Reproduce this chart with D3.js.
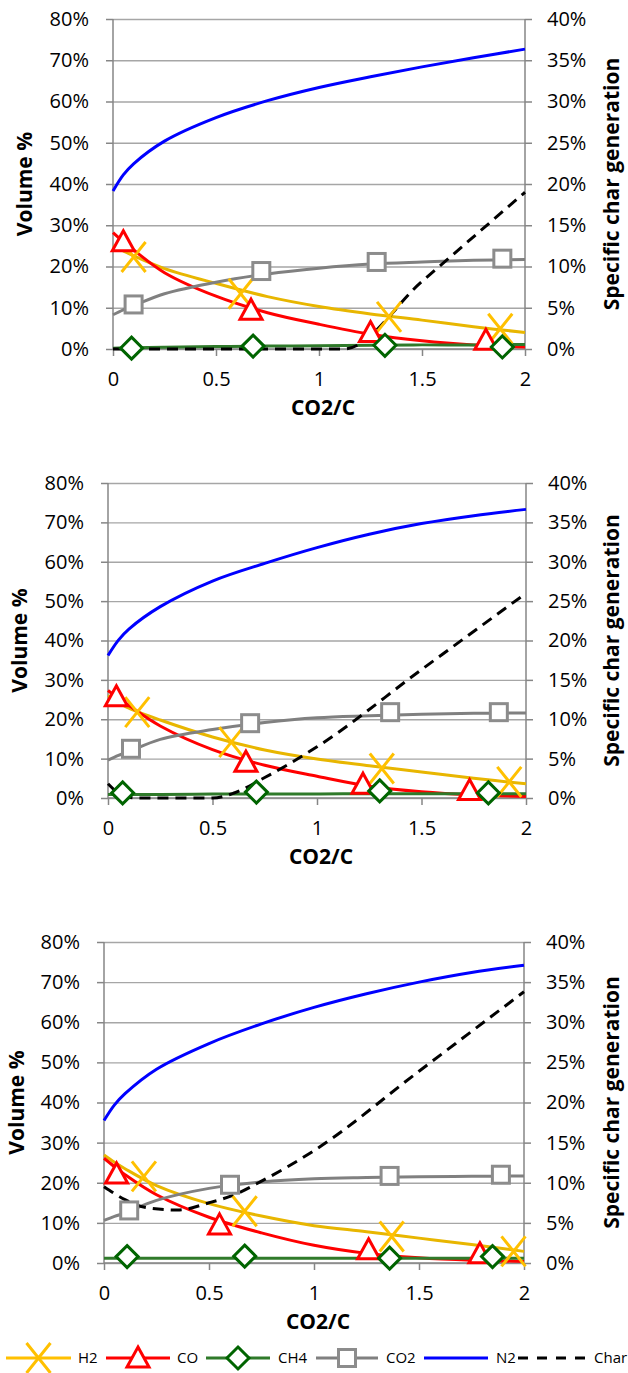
<!DOCTYPE html>
<html>
<head>
<meta charset="utf-8">
<script src="https://cdn.jsdelivr.net/npm/d3@7/dist/d3.min.js"></script>
<style>
  body { margin: 0; background: #fff; }
  svg { display: block; font-family: "Open Sans", sans-serif; }
</style>
</head>
<body>
<script>
var curveX = [0, 0.05, 0.1, 0.25, 0.5, 0.75, 1, 1.25, 1.5, 1.75, 2];

var leftTicks = [0, 10, 20, 30, 40, 50, 60, 70, 80];
var rightTicks = [0, 5, 10, 15, 20, 25, 30, 35, 40];
var xTicks = [0, 0.5, 1, 1.5, 2];

// ---- chart 1 ----
var n2Curve1 = [38.3, 42.2, 44.9, 50.4, 56.1, 60.2, 63.4, 66, 68.4, 70.6, 72.7];
var h2Curve1 = [25, 23.8, 22.6, 19.5, 15.9, 12.7, 10.3, 8.5, 7, 5.4, 4];
var coCurve1 = [28.2, 26, 24, 18.5, 12.8, 8.8, 6, 3.6, 2, 1, 0.5];
var ch4Curve1 = [0.2, 0.25, 0.3, 0.4, 0.6, 0.7, 0.8, 0.9, 1, 1, 1.1];
var co2Curve1 = [8.3, 9.5, 10.5, 13.4, 16.2, 18.2, 19.6, 20.6, 21.1, 21.5, 21.7];
var charX1 = [0, 0.5, 1, 1.12, 1.5, 2];
var charY1 = [0, 0, 0, 0, 8.2, 19];
var h2MarkX1 = [0.1, 0.62, 1.34, 1.88], h2MarkY1 = [22.3, 13.4, 7.8, 4.9];
var coMarkX1 = [0.05, 0.67, 1.25, 1.81], coMarkY1 = [26, 9.4, 4, 2.1];
var ch4MarkX1 = [0.09, 0.68, 1.32, 1.89], ch4MarkY1 = [0.2, 0.7, 0.9, 0.5];
var co2MarkX1 = [0.1, 0.72, 1.28, 1.89], co2MarkY1 = [10.8, 18.9, 21.1, 21.9];

// ---- chart 2 ----
var n2Curve2 = [36.2, 40.1, 42.9, 48.6, 55.1, 59.6, 63.6, 67, 69.7, 71.7, 73.3];
var h2Curve2 = [26, 24.3, 22.8, 19.8, 15.5, 12.2, 9.9, 8.2, 6.6, 5, 3.6];
var coCurve2 = [27.3, 25.3, 23.5, 18.3, 12.3, 8.3, 5.5, 3, 1.6, 0.8, 0.4];
var ch4Curve2 = [0.9, 0.9, 0.9, 0.9, 1, 1, 1, 1.1, 1.1, 1.1, 1.1];
var co2Curve2 = [9.6, 10.8, 11.8, 14.9, 17.4, 19.2, 20.4, 20.9, 21.3, 21.5, 21.6];
var charX2 = [0, 0.08, 0.15, 0.3, 0.5, 0.6, 0.75, 1, 1.5, 2];
var charY2 = [1.8, 0.2, 0, 0, 0, 0.6, 2.6, 6.5, 16.3, 26];
var h2MarkX2 = [0.14, 0.59, 1.31, 1.92], h2MarkY2 = [21.8, 14.2, 7.5, 4.1];
var coMarkX2 = [0.04, 0.66, 1.22, 1.73], coMarkY2 = [25.7, 9.1, 3.5, 1.9];
var ch4MarkX2 = [0.07, 0.71, 1.3, 1.82], ch4MarkY2 = [1.3, 1.5, 1.8, 1.3];
var co2MarkX2 = [0.11, 0.68, 1.35, 1.87], co2MarkY2 = [12.5, 19, 21.8, 21.8];

// ---- chart 3 ----
var n2Curve3 = [35.5, 39.4, 42.2, 48.3, 54.7, 59.6, 63.7, 67.1, 70, 72.4, 74.2];
var h2Curve3 = [26.9, 25.1, 23.5, 19.3, 14.8, 11.7, 9.3, 7.8, 6.2, 4.6, 2.9];
var coCurve3 = [26.1, 24, 22, 17, 11.4, 7.5, 4.4, 2.4, 1.3, 0.7, 0.4];
var ch4Curve3 = [1.2, 1.2, 1.2, 1.2, 1.2, 1.2, 1.2, 1.2, 1.2, 1.2, 1.2];
var co2Curve3 = [10.6, 11.6, 12.5, 15.6, 18.6, 20.2, 21, 21.3, 21.5, 21.6, 21.7];
var charX3 = [0, 0.1, 0.2, 0.35, 0.5, 0.62, 0.75, 1, 1.5, 2];
var charY3 = [9.5, 7.9, 6.9, 6.6, 7.5, 8.5, 10.2, 14, 23.9, 33.8];
var h2MarkX3 = [0.19, 0.67, 1.37, 1.95], h2MarkY3 = [21.6, 12.9, 6.6, 2.9];
var coMarkX3 = [0.06, 0.55, 1.26, 1.79], coMarkY3 = [22.2, 9.5, 3.3, 2.3];
var ch4MarkX3 = [0.11, 0.67, 1.36, 1.85], ch4MarkY3 = [1.6, 1.7, 1.2, 1.6];
var co2MarkX3 = [0.12, 0.6, 1.36, 1.89], co2MarkY3 = [13.1, 19.5, 21.7, 22];

var seriesNames = ["H2", "CO", "CH4", "CO2", "N2", "Char"];

var width = 628, height = 1373;

var svg = d3.select("body").append("svg")
    .attr("width", width)
    .attr("height", height);

function zip(xs, ys) {
    return xs.map(function (x, i) { return [x, ys[i]]; });
}

var charts = [
    { left: 113, right: 525, top: 19, bottom: 349, ytx: 25,
      n2: n2Curve1, h2: h2Curve1, co: coCurve1, ch4: ch4Curve1, co2: co2Curve1,
      charX: charX1, charY: charY1,
      h2m: zip(h2MarkX1, h2MarkY1), com: zip(coMarkX1, coMarkY1),
      ch4m: zip(ch4MarkX1, ch4MarkY1), co2m: zip(co2MarkX1, co2MarkY1) },
    { left: 108, right: 526, top: 483, bottom: 798, ytx: 20,
      n2: n2Curve2, h2: h2Curve2, co: coCurve2, ch4: ch4Curve2, co2: co2Curve2,
      charX: charX2, charY: charY2,
      h2m: zip(h2MarkX2, h2MarkY2), com: zip(coMarkX2, coMarkY2),
      ch4m: zip(ch4MarkX2, ch4MarkY2), co2m: zip(co2MarkX2, co2MarkY2) },
    { left: 104, right: 524, top: 942, bottom: 1263, ytx: 17,
      n2: n2Curve3, h2: h2Curve3, co: coCurve3, ch4: ch4Curve3, co2: co2Curve3,
      charX: charX3, charY: charY3,
      h2m: zip(h2MarkX3, h2MarkY3), com: zip(coMarkX3, coMarkY3),
      ch4m: zip(ch4MarkX3, ch4MarkY3), co2m: zip(co2MarkX3, co2MarkY3) }
];

var gridColor = "#A6A6A6";
var axisColor = "#868686";

// marker shapes
function xMark(g, color) {
    g.append("path").attr("d", "M-12,-15L12,15M-12,15L12,-15")
        .attr("stroke", color).attr("stroke-width", 3).attr("fill", "none");
}
function triMark(g, color) {
    g.append("path").attr("d", "M0,-11L11,9L-11,9Z")
        .attr("stroke", color).attr("stroke-width", 3).attr("fill", "#fff");
}
function diaMark(g, color) {
    g.append("path").attr("d", "M0,-11L11,0L0,11L-11,0Z")
        .attr("stroke", color).attr("stroke-width", 3).attr("fill", "#fff");
}
function sqMark(g, color) {
    g.append("rect").attr("x", -8.5).attr("y", -8.5).attr("width", 17).attr("height", 17)
        .attr("stroke", color).attr("stroke-width", 3).attr("fill", "#fff");
}

charts.forEach(function (c) {
    var x = d3.scaleLinear().domain([0, 2]).range([c.left, c.right]);
    var y = d3.scaleLinear().domain([0, 80]).range([c.bottom, c.top]);
    var y2 = d3.scaleLinear().domain([0, 40]).range([c.bottom, c.top]);
    var g = svg.append("g");

    // gridlines
    g.append("g")
        .attr("transform", "translate(" + c.left + ",0)")
        .call(d3.axisLeft(y).tickValues(leftTicks).tickSize(-(c.right - c.left)).tickFormat(""))
        .call(function (s) { s.select(".domain").remove(); })
        .selectAll("line").attr("stroke", gridColor).attr("stroke-width", 1.3);

    // left axis
    var la = g.append("g")
        .attr("transform", "translate(" + c.left + ",0)")
        .call(d3.axisLeft(y).tickValues(leftTicks).tickSize(7).tickPadding(17)
            .tickFormat(function (d) { return d + "%"; }));
    // right axis
    var ra = g.append("g")
        .attr("transform", "translate(" + c.right + ",0)")
        .call(d3.axisRight(y2).tickValues(rightTicks).tickSize(7).tickPadding(15)
            .tickFormat(function (d) { return d + "%"; }));
    // bottom axis
    var ba = g.append("g")
        .attr("transform", "translate(0," + c.bottom + ")")
        .call(d3.axisBottom(x).tickValues(xTicks).tickSize(7).tickPadding(16)
            .tickFormat(d3.format("")));

    [la, ra, ba].forEach(function (a) {
        a.select(".domain").attr("stroke", axisColor).attr("stroke-width", 1.5);
        a.selectAll("line").attr("stroke", axisColor).attr("stroke-width", 1.5);
        a.selectAll("text").attr("font-size", 20).attr("fill", "#000")
            .attr("font-family", "Open Sans");
    });
    ra.select(".domain").attr("d", "M0," + c.bottom + "V" + c.top);
    la.select(".domain").attr("d", "M0," + c.bottom + "V" + c.top);
    ba.select(".domain").attr("d", "M" + c.left + ",0H" + c.right);

    // titles
    g.append("text")
        .attr("transform", "translate(" + c.ytx + "," + ((c.top + c.bottom) / 2) + ") rotate(-90)")
        .attr("text-anchor", "middle").attr("dy", "0.35em")
        .attr("font-size", 21).attr("font-weight", "bold")
        .text("Volume %");
    g.append("text")
        .attr("transform", "translate(612," + ((c.top + c.bottom) / 2) + ") rotate(-90)")
        .attr("text-anchor", "middle").attr("dy", "0.35em")
        .attr("font-size", 21).attr("font-weight", "bold")
        .text("Specific char generation");
    g.append("text")
        .attr("x", (c.left + c.right) / 2 + 4).attr("y", c.bottom + 59)
        .attr("text-anchor", "middle").attr("dy", "0.35em")
        .attr("font-size", 21).attr("font-weight", "bold")
        .text("CO2/C");

    var line = d3.line()
        .x(function (d) { return x(d[0]); })
        .y(function (d) { return y(d[1]); })
        .curve(d3.curveCatmullRom.alpha(0.5));
    var line2 = d3.line()
        .x(function (d) { return x(d[0]); })
        .y(function (d) { return y2(d[1]); })
        .curve(d3.curveMonotoneX);

    var plot = g.append("g");
    function curve(vals, color) {
        plot.append("path").datum(zip(curveX, vals))
            .attr("d", line).attr("fill", "none")
            .attr("stroke", color).attr("stroke-width", 3);
    }
    curve(c.h2, "#E8B600");
    curve(c.co, "#FF0000");
    curve(c.ch4, "#2F7A2A");
    curve(c.co2, "#808080");
    curve(c.n2, "#0000FF");

    plot.append("path").datum(zip(c.charX, c.charY))
        .attr("d", line2).attr("fill", "none")
        .attr("stroke", "#000").attr("stroke-width", 3)
        .attr("stroke-dasharray", "11,7");

    function marks(pts, fn, color) {
        pts.forEach(function (p) {
            var m = plot.append("g").attr("transform", "translate(" + x(p[0]) + "," + y(p[1]) + ")");
            fn(m, color);
        });
    }
    marks(c.h2m, xMark, "#FFC000");
    marks(c.com, triMark, "#FF0000");
    marks(c.ch4m, diaMark, "#006400");
    marks(c.co2m, sqMark, "#8C8C8C");
});

// legend
var legendY = 1358;
var legendItems = [
    { x0: 6, x1: 71, tx: 78, color: "#FFC000", lc: "#FFC000", mark: xMark },
    { x0: 106, x1: 170, tx: 177, color: "#FF0000", lc: "#FF0000", mark: triMark },
    { x0: 206, x1: 270, tx: 278, color: "#006400", lc: "#2F7A2A", mark: diaMark },
    { x0: 316, x1: 378, tx: 386, color: "#8C8C8C", lc: "#808080", mark: sqMark },
    { x0: 424, x1: 488, tx: 496, color: null, lc: "#0000FF", mark: null },
    { x0: 518, x1: 588, tx: 594, color: null, lc: "#000", mark: null, dash: true }
];
var leg = svg.append("g");
legendItems.forEach(function (it, i) {
    leg.append("line")
        .attr("x1", it.x0).attr("x2", it.x1)
        .attr("y1", legendY).attr("y2", legendY)
        .attr("stroke", it.lc).attr("stroke-width", 3)
        .attr("stroke-dasharray", it.dash ? "10,9" : null);
    if (it.mark) {
        var m = leg.append("g").attr("transform", "translate(" + ((it.x0 + it.x1) / 2) + "," + legendY + ")");
        it.mark(m, it.color);
    }
    leg.append("text")
        .attr("x", it.tx).attr("y", legendY).attr("dy", "0.35em")
        .attr("font-size", 15)
        .text(seriesNames[i]);
});
</script>
</body>
</html>
